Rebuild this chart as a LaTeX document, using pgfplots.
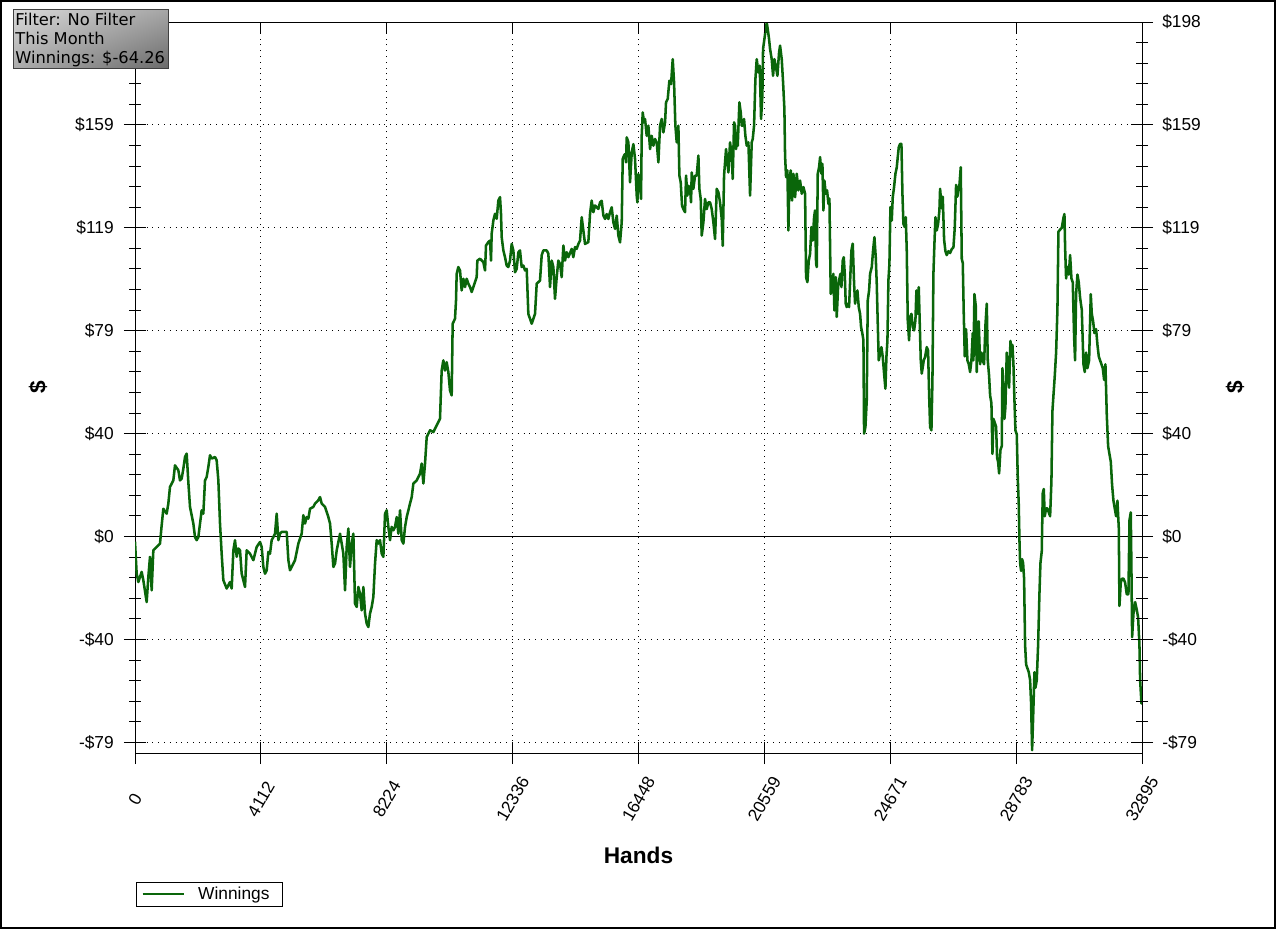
\documentclass[border=0pt]{standalone}
\usepackage{pgfplots}
\pgfplotsset{compat=1.18}
\usepackage{pgfplotstable}
\usetikzlibrary{shadings}
\usepackage{fontspec}
\setmainfont{Liberation Sans}
\newfontfamily\boxfont{DejaVu Sans}
\definecolor{wingreen}{RGB}{10,102,10}

\pgfplotstableread{
x y
0 -2
54 -14.2
109 -17.5
218 -13.6
272 -16.8
381 -25.2
436 -15.5
490 -7.8
545 -20.7
599 -5.3
708 -4.0
817 -2.7
871 4.3
926 10.7
1035 8.8
1089 12.7
1143 19.1
1252 21.6
1307 27.4
1416 25.5
1470 21.6
1525 22.3
1579 26.1
1634 30.6
1688 31.9
1742 21.0
1797 11.4
1906 5.0
1960 -0.2
2015 -1.4
2069 -0.2
2124 5.0
2178 10.1
2232 8.8
2287 21.6
2341 22.9
2396 26.8
2450 31.3
2505 30.0
2614 30.6
2668 29.3
2723 21.6
2777 5.0
2831 -6.6
2886 -16.8
2995 -20.0
3104 -17.5
3158 -20.0
3213 -5.3
3267 -1.4
3322 -7.8
3376 -4.6
3430 -5.3
3485 -14.3
3594 -19.4
3648 -5.3
3757 -6.6
3866 -9.1
3975 -4.0
4084 -2.1
4138 -4.0
4193 -11.7
4247 -14.3
4302 -13.0
4356 -5.9
4410 -6.6
4465 -1.4
4519 -0.2
4574 1.1
4628 8.8
4683 -1.4
4737 1.1
4792 1.8
4955 1.8
5010 -9.1
5064 -13.0
5118 -11.7
5227 -9.1
5336 -2.7
5445 1.1
5499 8.2
5554 5.0
5608 7.5
5663 6.9
5717 10.7
5826 11.4
5881 12.7
5990 14.0
6044 15.2
6099 12.7
6207 11.4
6316 7.5
6371 5.0
6425 -2.7
6480 -11.7
6534 -10.4
6589 -5.3
6697 1.1
6752 -2.7
6806 -6.6
6861 -20.7
6915 -4.0
6970 3.1
7024 -11.7
7079 -2.7
7133 1.1
7187 -25.8
7242 -27.1
7296 -19.4
7351 -22.0
7405 -28.4
7460 -19.4
7514 -29.6
7569 -33.5
7623 -34.8
7677 -29.6
7732 -27.1
7786 -23.2
7841 -10.4
7895 -1.4
7950 -2.7
8004 -1.4
8059 -6.6
8113 -7.8
8168 8.8
8222 10.1
8276 3.7
8331 -1.4
8385 3.7
8440 2.4
8494 3.7
8549 7.5
8603 1.1
8658 10.1
8712 -1.4
8767 -2.7
8821 3.7
8876 7.5
8984 12.7
9039 15.2
9093 20.4
9202 21.6
9311 24.2
9365 28.1
9420 20.4
9474 28.1
9529 38.3
9638 40.9
9747 40.2
9855 42.8
9963 45.3
10018 63.9
10072 67.8
10127 63.9
10181 67.1
10236 63.3
10290 56.2
10345 54.3
10377 81.9
10453 83.8
10486 90.8
10508 101.1
10562 103.7
10617 102.4
10671 94.7
10726 99.2
10780 96.0
10835 99.2
10889 97.3
10944 96.0
10998 94.1
11052 96.0
11161 99.8
11183 106.2
11270 106.9
11379 105.6
11434 102.4
11466 112.0
11542 113.3
11597 113.9
11630 106.2
11651 116.5
11706 121.6
11760 124.2
11815 122.3
11869 129.3
11924 130.6
11956 124.2
11978 115.2
12033 110.1
12087 107.5
12141 104.3
12196 103.7
12250 106.2
12305 112.6
12359 110.1
12414 101.7
12468 103.0
12523 109.4
12577 110.1
12631 103.7
12686 104.3
12740 102.4
12795 103.0
12849 85.7
12958 81.9
13067 85.7
13122 97.3
13230 98.5
13285 108.2
13339 110.1
13448 110.1
13503 108.8
13557 96.0
13612 106.2
13666 103.7
13720 91.5
13775 99.8
13829 106.2
13884 104.9
13938 99.8
13993 112.0
14047 106.2
14102 109.4
14156 107.5
14265 110.7
14319 107.5
14374 111.4
14428 110.7
14483 112.6
14537 113.9
14592 122.9
14646 117.8
14701 112.6
14809 113.3
14864 124.2
14918 129.3
14973 124.8
15027 127.4
15136 126.1
15191 128.6
15245 129.2
15300 123.5
15354 122.2
15409 124.1
15463 122.2
15518 124.8
15572 126.7
15627 120.9
15681 118.4
15736 123.5
15790 115.8
15844 113.2
15899 120.9
15932 145.3
15975 146.6
16008 147.2
16040 144.0
16062 153.6
16117 151.7
16171 136.3
16226 147.8
16280 151.0
16334 145.3
16389 131.2
16411 128.6
16443 139.5
16498 136.3
16530 129.9
16552 154.2
16585 163.2
16628 159.4
16661 160.7
16716 154.2
16770 158.1
16825 149.1
16879 154.2
16933 150.4
16988 153.0
17042 151.7
17097 144.0
17151 158.1
17206 160.7
17260 155.5
17315 159.4
17347 167.1
17402 168.4
17456 175.4
17511 174.1
17565 183.7
17609 174.8
17652 158.1
17696 151.7
17750 158.1
17783 138.9
17826 136.3
17870 127.3
17914 126.0
17968 124.8
18001 138.9
18044 131.2
18077 135.0
18131 133.8
18164 128.6
18186 140.1
18240 133.8
18295 138.9
18349 138.9
18404 146.6
18436 133.8
18480 129.9
18512 115.8
18567 120.9
18621 129.9
18676 126.0
18730 128.6
18785 128.6
18839 126.0
18894 120.9
18948 114.5
19003 133.8
19057 132.5
19111 128.6
19166 122.2
19199 111.9
19242 138.9
19307 149.1
19351 144.0
19384 140.1
19438 151.7
19493 146.6
19525 137.6
19569 159.4
19602 158.1
19634 149.1
19656 151.7
19689 150.4
19743 167.1
19787 163.2
19819 158.1
19852 158.1
19895 160.7
19939 154.2
19983 150.4
20037 151.7
20092 131.2
20146 151.7
20179 153.0
20222 158.1
20266 176.0
20309 183.7
20364 178.6
20407 181.2
20451 160.7
20494 169.6
20516 187.6
20560 191.4
20603 195.3
20636 197.8
20669 195.3
20712 191.4
20745 187.6
20799 183.7
20843 177.3
20887 183.7
20930 181.2
20985 177.3
21039 186.3
21072 188.9
21126 183.7
21170 174.8
21213 164.5
21235 146.6
21268 138.3
21312 140.9
21344 117.8
21377 137.0
21420 140.9
21464 129.3
21508 139.6
21562 130.6
21617 139.6
21671 133.2
21725 137.0
21780 131.9
21834 134.5
21889 131.9
21921 99.8
21965 97.9
22009 106.2
22052 108.8
22096 119.1
22139 113.9
22183 122.9
22215 125.5
22248 105.0
22270 103.7
22303 139.6
22346 142.1
22379 146.0
22422 139.6
22455 143.4
22488 125.5
22520 137.0
22564 131.9
22607 133.2
22651 128.0
22684 130.0
22727 93.4
22771 94.7
22814 101.1
22847 87.0
22891 99.8
22923 84.5
22967 96.0
22999 98.6
23043 101.1
23076 96.0
23119 106.2
23152 107.5
23185 101.1
23217 89.6
23250 88.3
23283 89.6
23326 88.3
23370 101.1
23402 110.1
23446 112.7
23490 97.3
23522 89.6
23555 92.1
23598 94.7
23642 88.3
23686 85.7
23718 80.6
23762 78.0
23795 75.5
23816 39.6
23860 42.1
23903 52.4
23936 90.9
23980 94.7
24012 101.1
24067 103.7
24110 110.1
24154 115.2
24197 107.5
24230 97.3
24263 81.9
24295 67.8
24339 70.4
24383 72.9
24426 69.1
24470 62.7
24513 56.9
24546 69.1
24579 75.5
24611 98.6
24644 105.0
24677 126.8
24720 121.6
24753 130.6
24796 134.5
24840 139.6
24884 142.1
24916 146.0
24949 149.8
24992 151.1
25036 151.1
25069 131.9
25101 120.3
25145 119.1
25178 122.9
25210 110.1
25243 83.2
25286 75.5
25319 84.5
25363 85.7
25406 80.6
25450 79.3
25493 83.2
25526 94.7
25570 85.7
25602 96.0
25635 81.9
25668 67.8
25700 62.7
25733 65.2
25766 67.8
25809 69.1
25864 72.9
25907 71.6
25940 55.0
25973 42.1
26016 40.9
26049 60.1
26081 101.1
26114 112.7
26147 122.9
26190 117.8
26234 120.3
26277 125.5
26299 133.8
26353 126.3
26386 130.8
26430 114.3
26473 109.8
26517 108.3
26571 109.8
26626 109.1
26680 110.6
26735 111.3
26778 118.8
26822 135.3
26865 130.8
26898 133.8
26931 135.3
26974 142.1
27007 106.8
27040 105.3
27072 85.8
27105 69.3
27148 79.8
27192 67.8
27236 66.3
27279 63.3
27323 67.8
27366 78.3
27388 67.8
27421 93.3
27464 88.8
27497 63.3
27530 81.3
27562 82.8
27606 66.3
27649 70.8
27693 67.8
27736 66.3
27780 81.3
27824 89.6
27856 67.8
27900 61.8
27933 54.3
27976 51.3
28009 31.8
28041 45.3
28085 43.8
28129 42.3
28161 30.3
28194 28.8
28227 24.3
28270 33.3
28314 34.8
28335 64.8
28368 55.8
28401 45.3
28433 49.8
28477 70.8
28521 63.3
28553 57.3
28597 75.3
28629 69.3
28662 73.8
28695 66.3
28727 52.8
28760 40.8
28804 39.3
28836 22.8
28869 12.3
28891 -1.2
28913 -10.2
28945 -13.2
28978 -8.7
29011 -10.2
29043 -16.2
29076 -41.7
29109 -49.2
29152 -50.7
29196 -52.2
29239 -55.2
29272 -64.2
29305 -82.2
29337 -70.2
29381 -52.2
29414 -58.2
29457 -55.2
29501 -41.7
29544 -22.2
29577 -10.2
29620 -5.7
29653 16.8
29686 18.3
29718 7.8
29762 10.8
29806 10.8
29849 9.3
29893 7.8
29936 21.3
29969 48.3
30002 54.3
30045 61.8
30089 70.8
30132 87.3
30165 117.3
30219 118.1
30274 118.8
30328 122.6
30361 124.1
30383 111.3
30415 99.3
30459 103.8
30503 100.8
30546 108.3
30590 99.3
30633 97.8
30677 76.8
30709 67.8
30742 93.3
30786 100.8
30829 97.8
30873 91.8
30927 87.3
30982 66.3
31025 63.3
31069 70.8
31112 64.8
31167 67.8
31221 93.3
31254 85.8
31298 82.8
31341 78.3
31396 79.8
31439 73.8
31483 69.3
31526 67.8
31570 66.3
31613 64.8
31657 60.3
31700 66.3
31744 46.8
31788 34.8
31831 31.8
31875 28.8
31918 19.8
31962 13.8
32005 10.8
32049 7.8
32092 13.8
32136 3.3
32158 -26.7
32201 -17.7
32245 -16.2
32289 -16.2
32343 -17.7
32397 -22.2
32452 -22.2
32485 6.3
32528 9.3
32550 -13.2
32572 -38.7
32615 -29.7
32670 -25.2
32724 -28.2
32768 -31.2
32811 -41.7
32833 -55.2
32877 -64.2
32895 -64.26
}\winnings

\pgfplotsset{
  common/.style={
    scale only axis, width=755.25pt, height=548.25pt,
    at={(101.25pt,-564.75pt)}, anchor=south west,
    xmin=0, xmax=32895, ymin=-83.3, ymax=198,
    xtick={0,4112,8224,12336,16448,20559,24671,28783,32895},
    ytick={-79.2,-39.6,0,39.6,79.2,118.8,158.4,198},
    minor x tick num=4, minor y tick num=4,
    major tick length=16.5pt, minor tick length=9pt,
    tick style={black, line width=0.75pt},
    axis line style={black, line width=0.75pt},
    scaled x ticks=false, scaled y ticks=false,
    tick label style={font=\fontsize{13}{15}\selectfont},
  }
}

\begin{document}
\begin{tikzpicture}
\useasboundingbox (0,0) rectangle (957.75pt,-696.75pt);
\draw[line width=1.2pt] (0.6pt,-0.6pt) rectangle (956.4pt,-695.9pt);

% main axis: bottom + left
\begin{axis}[common,
  axis x line*=bottom, axis y line*=left, tick align=center,
  xticklabels={0,4112,8224,12336,16448,20559,24671,28783,32895},
  yticklabels={-\$79,-\$40,\$0,\$40,\$79,\$119,\$159,\$198},
  xticklabel style={inner sep=0pt, yshift=-26.25pt, rotate=60, anchor=center},
  yticklabel style={anchor=east, inner sep=0pt, xshift=-7.5pt},
  grid=major,
  major grid style={black, line width=0.75pt, dash pattern=on 0.75pt off 3.6pt},
  xlabel={Hands}, ylabel={\$},
  xlabel style={font=\bfseries\fontsize{17}{20}\selectfont, at={(axis description cs:0.5,-0.1395)}, anchor=center},
  ylabel style={font=\bfseries\fontsize{17}{20}\selectfont, at={(axis description cs:-0.0963,0.5)}, anchor=center},
  legend style={at={(axis description cs:0,0)}, anchor=north west, yshift=-96.5pt, xshift=0.5pt,
    draw=black, line width=0.75pt, inner xsep=4pt, inner ysep=1.5pt,
    font=\fontsize{13}{15}\selectfont, column sep=8pt},
  legend cell align=left,
  legend image code/.code={\draw[#1, line width=1.5pt] (0pt,0pt) -- (31pt,0pt);},
]
\addplot[black, line width=0.75pt, forget plot] coordinates {(0,0) (32895,0)};
\addplot[wingreen, line width=1.9pt, line join=round] table[x=x, y=y] {\winnings};
\addlegendentry{Winnings\hspace*{3.5pt}}
\end{axis}

% right axis
\begin{axis}[common, hide x axis, axis y line*=right, tick align=center,
  yticklabels={-\$79,-\$40,\$0,\$40,\$79,\$119,\$159,\$198},
  yticklabel style={anchor=west, inner sep=0pt, xshift=6.75pt},
  ylabel={\$},
  ylabel style={font=\bfseries\fontsize{17}{20}\selectfont, at={(axis description cs:1.0924,0.5)}, anchor=center},
]
\addplot[draw=none] coordinates {(0,0)};
\end{axis}

% top axis
\begin{axis}[common, hide y axis, axis x line*=top, tick align=inside,
  xticklabels={}, major tick length=8.25pt, minor tick length=4.5pt]
\addplot[draw=none] coordinates {(0,0)};
\end{axis}

% info box
\shade[upper left=black!15, upper right=black!35, lower left=black!33, lower right=black!58]
  (10pt,-7pt) rectangle (126.25pt,-51.25pt);
\draw[black!75, line width=0.75pt] (10pt,-7pt) rectangle (126.25pt,-51.25pt);
\node[anchor=base west, inner sep=0pt, font=\boxfont\fontsize{12.2}{14}\selectfont] at (11.3pt,-18.75pt) {Filter: No Filter};
\node[anchor=base west, inner sep=0pt, font=\boxfont\fontsize{12.2}{14}\selectfont] at (11.3pt,-33.2pt) {This Month};
\node[anchor=base west, inner sep=0pt, font=\boxfont\fontsize{12.2}{14}\selectfont] at (11.3pt,-47.5pt) {Winnings: \$-64.26};
\end{tikzpicture}
\end{document}
